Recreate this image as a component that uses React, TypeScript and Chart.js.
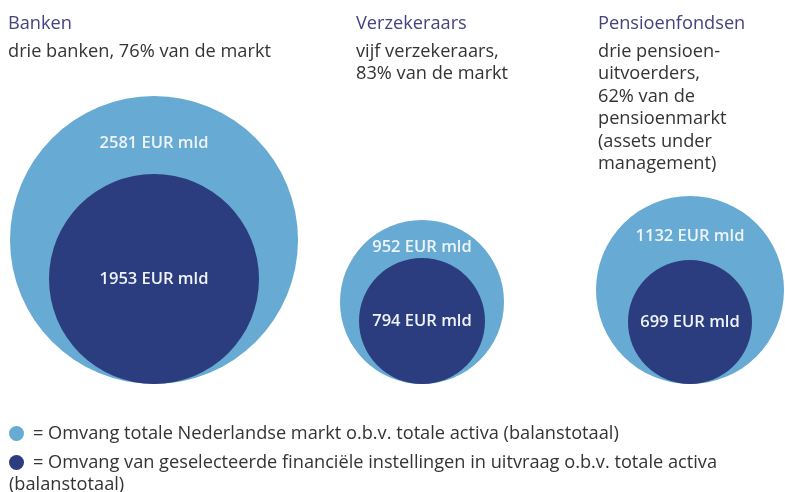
import React, { useEffect, useRef } from "react";
import { Chart, registerables } from "chart.js";

Chart.register(...registerables);

// ---- data ----
const groups = ["Banken", "Verzekeraars", "Pensioenfondsen"];
const totalMarket = [2581, 952, 1132]; // EUR mld, totale Nederlandse markt
const selectedInstitutions = [1953, 794, 699]; // EUR mld, geselecteerde instellingen
const valueUnit = "EUR mld";
const groupSubtitles = [
  ["drie banken, 76% van de markt"],
  ["vijf verzekeraars,", "83% van de markt"],
  ["drie pensioen-", "uitvoerders,", "62% van de", "pensioenmarkt", "(assets under", "management)"],
];
const legendLabels = [
  "= Omvang totale Nederlandse markt o.b.v. totale activa (balanstotaal)",
  "= Omvang van geselecteerde financiële instellingen in uitvraag o.b.v. totale activa (balanstotaal)",
];

// ---- layout / style ----
const LIGHT = "#67aad4";
const DARK = "#2b3d7e";
const TITLE_COLOR = "#45427f";
const TEXT_COLOR = "#333333";
const FONT = '"Open Sans", "Noto Sans", sans-serif';
const FONT_SIZE = 18.2;
const W = 785;
const H = 492;
const BASELINE = 384; // bottom of all circles
const bubbleRadius = { total: [144, 82, 94], selected: [105, 63, 62] };
const titleX = [8, 356, 598];

const labelPlugin = {
  id: "bubbleLabels",
  afterDatasetsDraw(chart: any) {
    const ctx = chart.ctx;
    const outer = chart.getDatasetMeta(0).data;
    const inner = chart.getDatasetMeta(1).data;
    ctx.save();
    ctx.fillStyle = "#eef4fa";
    ctx.font = `600 16.5px ${FONT}`;
    ctx.textAlign = "center";
    ctx.textBaseline = "middle";
    groups.forEach((_, i) => {
      const o = outer[i];
      const n = inner[i];
      const ro = o.options.radius;
      const rn = n.options.radius;
      const yOuter = (o.y - ro + (n.y - rn)) / 2 + 8;
      ctx.fillText(`${totalMarket[i]} ${valueUnit}`, o.x, yOuter);
      ctx.fillText(`${selectedInstitutions[i]} ${valueUnit}`, n.x, n.y);
    });
    ctx.restore();
  },
};

export default function App() {
  const canvasRef = useRef<HTMLCanvasElement | null>(null);

  useEffect(() => {
    if (!canvasRef.current) return;
    const chart = new Chart(canvasRef.current, {
      type: "bubble",
      data: {
        labels: groups,
        datasets: [
          {
            label: legendLabels[0],
            data: groups.map((g, i) => ({ x: g, y: bubbleRadius.total[i], r: bubbleRadius.total[i] })) as any,
            backgroundColor: LIGHT,
            borderWidth: 0,
            hoverRadius: 0,
            order: 2,
            clip: false as any,
          },
          {
            label: legendLabels[1],
            data: groups.map((g, i) => ({ x: g, y: bubbleRadius.selected[i], r: bubbleRadius.selected[i] })) as any,
            backgroundColor: DARK,
            borderWidth: 0,
            hoverRadius: 0,
            order: 1,
            clip: false as any,
          },
        ],
      },
      options: {
        responsive: false,
        animation: false,
        events: [],
        layout: { autoPadding: false, padding: { left: 154, right: 95, top: 0, bottom: H - BASELINE } },
        plugins: { legend: { display: false }, tooltip: { enabled: false }, title: { display: false } },
        scales: {
          x: { type: "category", offset: false, display: false },
          y: { type: "linear", min: 0, max: BASELINE, display: false },
        },
      },
      plugins: [labelPlugin],
    });
    return () => chart.destroy();
  }, []);

  const titleStyle = (x: number): React.CSSProperties => ({
    position: "absolute",
    left: x,
    top: 10,
    fontFamily: FONT,
    fontSize: FONT_SIZE,
    lineHeight: "24px",
    color: TITLE_COLOR,
    whiteSpace: "nowrap",
  });
  const subStyle = (x: number): React.CSSProperties => ({
    position: "absolute",
    left: x,
    top: 38.5,
    fontFamily: FONT,
    fontSize: FONT_SIZE,
    lineHeight: "22.5px",
    color: TEXT_COLOR,
    whiteSpace: "nowrap",
  });
  const dot = (color: string): React.CSSProperties => ({
    display: "inline-block",
    width: 15,
    height: 15,
    borderRadius: "50%",
    background: color,
    marginRight: 9,
    verticalAlign: "-2px",
  });

  return (
    <div style={{ position: "fixed", left: 0, top: 0, width: W, height: H, background: "#fff", overflow: "hidden" }}>
      <canvas ref={canvasRef} width={W} height={H} style={{ position: "absolute", left: 0, top: 0 }} />
      {groups.map((g, i) => (
        <React.Fragment key={g}>
          <div style={titleStyle(titleX[i])}>{g}</div>
          <div style={subStyle(titleX[i])}>
            {groupSubtitles[i].map((l) => (
              <div key={l}>{l}</div>
            ))}
          </div>
        </React.Fragment>
      ))}
      <div style={{ position: "absolute", left: 9, top: 421, width: 725, fontFamily: FONT, fontSize: FONT_SIZE, color: TEXT_COLOR, lineHeight: "22px" }}>
        <div style={{ whiteSpace: "nowrap" }}>
          <span style={dot(LIGHT)} />
          {legendLabels[0]}
        </div>
        <div style={{ marginTop: 7 }}>
          <span style={dot(DARK)} />
          {legendLabels[1]}
        </div>
      </div>
    </div>
  );
}
